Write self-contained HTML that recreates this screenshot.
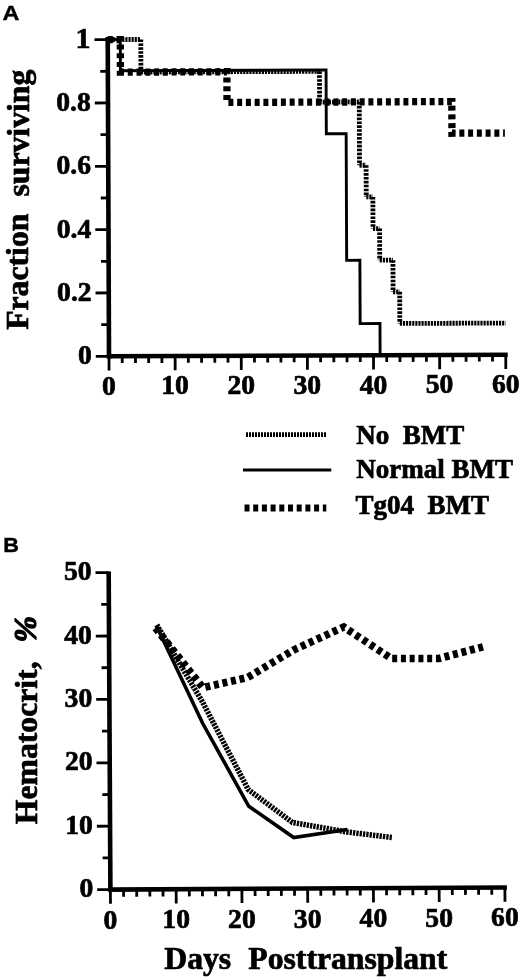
<!DOCTYPE html>
<html lang="en">
<head>
<meta charset="utf-8">
<title>Figure</title>
<style>
html,body{margin:0;padding:0;background:#fff;}
body{width:520px;height:978px;overflow:hidden;}
svg{display:block;}
.se{font-family:"Liberation Serif","Times New Roman",Times,serif;font-weight:bold;fill:#000;}
.sa{font-family:"Liberation Sans",Arial,Helvetica,sans-serif;font-weight:bold;fill:#000;}
</style>
</head>
<body>
<svg width="520" height="978" viewBox="0 0 520 978">
<rect width="520" height="978" fill="#fff"/>
<line x1="109.01" y1="358.6" x2="107.72" y2="37" stroke="#000" stroke-width="4.6" stroke-linecap="butt"/>
<line x1="106.9" y1="356.31" x2="507.75" y2="354.7" stroke="#000" stroke-width="4.6" stroke-linecap="butt"/>
<line x1="95.8" y1="356.35" x2="109" y2="356.3" stroke="#000" stroke-width="2.8" stroke-linecap="butt"/>
<line x1="101.27" y1="324.66" x2="108.87" y2="324.63" stroke="#000" stroke-width="2.8" stroke-linecap="butt"/>
<line x1="95.55" y1="293.01" x2="108.75" y2="292.96" stroke="#000" stroke-width="2.8" stroke-linecap="butt"/>
<line x1="101.02" y1="261.32" x2="108.62" y2="261.29" stroke="#000" stroke-width="2.8" stroke-linecap="butt"/>
<line x1="95.29" y1="229.67" x2="108.49" y2="229.62" stroke="#000" stroke-width="2.8" stroke-linecap="butt"/>
<line x1="100.76" y1="197.98" x2="108.36" y2="197.95" stroke="#000" stroke-width="2.8" stroke-linecap="butt"/>
<line x1="95.04" y1="166.33" x2="108.24" y2="166.28" stroke="#000" stroke-width="2.8" stroke-linecap="butt"/>
<line x1="100.51" y1="134.64" x2="108.11" y2="134.61" stroke="#000" stroke-width="2.8" stroke-linecap="butt"/>
<line x1="94.78" y1="103" x2="107.98" y2="102.94" stroke="#000" stroke-width="2.8" stroke-linecap="butt"/>
<line x1="100.26" y1="71.3" x2="107.86" y2="71.27" stroke="#000" stroke-width="2.8" stroke-linecap="butt"/>
<line x1="94.53" y1="39.66" x2="107.73" y2="39.6" stroke="#000" stroke-width="2.8" stroke-linecap="butt"/>
<line x1="109" y1="356.3" x2="109.06" y2="370.5" stroke="#000" stroke-width="2.8" stroke-linecap="butt"/>
<line x1="122.22" y1="356.25" x2="122.25" y2="363.05" stroke="#000" stroke-width="2.8" stroke-linecap="butt"/>
<line x1="135.45" y1="356.19" x2="135.48" y2="362.99" stroke="#000" stroke-width="2.8" stroke-linecap="butt"/>
<line x1="148.67" y1="356.14" x2="148.7" y2="362.94" stroke="#000" stroke-width="2.8" stroke-linecap="butt"/>
<line x1="161.9" y1="356.09" x2="161.93" y2="362.89" stroke="#000" stroke-width="2.8" stroke-linecap="butt"/>
<line x1="175.12" y1="356.03" x2="175.18" y2="370.23" stroke="#000" stroke-width="2.8" stroke-linecap="butt"/>
<line x1="188.35" y1="355.98" x2="188.38" y2="362.78" stroke="#000" stroke-width="2.8" stroke-linecap="butt"/>
<line x1="201.57" y1="355.93" x2="201.6" y2="362.73" stroke="#000" stroke-width="2.8" stroke-linecap="butt"/>
<line x1="214.8" y1="355.88" x2="214.83" y2="362.68" stroke="#000" stroke-width="2.8" stroke-linecap="butt"/>
<line x1="228.02" y1="355.82" x2="228.05" y2="362.62" stroke="#000" stroke-width="2.8" stroke-linecap="butt"/>
<line x1="241.25" y1="355.77" x2="241.31" y2="369.97" stroke="#000" stroke-width="2.8" stroke-linecap="butt"/>
<line x1="254.47" y1="355.72" x2="254.5" y2="362.52" stroke="#000" stroke-width="2.8" stroke-linecap="butt"/>
<line x1="267.7" y1="355.66" x2="267.73" y2="362.46" stroke="#000" stroke-width="2.8" stroke-linecap="butt"/>
<line x1="280.92" y1="355.61" x2="280.95" y2="362.41" stroke="#000" stroke-width="2.8" stroke-linecap="butt"/>
<line x1="294.15" y1="355.56" x2="294.18" y2="362.36" stroke="#000" stroke-width="2.8" stroke-linecap="butt"/>
<line x1="307.37" y1="355.5" x2="307.43" y2="369.7" stroke="#000" stroke-width="2.8" stroke-linecap="butt"/>
<line x1="320.6" y1="355.45" x2="320.63" y2="362.25" stroke="#000" stroke-width="2.8" stroke-linecap="butt"/>
<line x1="333.82" y1="355.4" x2="333.85" y2="362.2" stroke="#000" stroke-width="2.8" stroke-linecap="butt"/>
<line x1="347.05" y1="355.34" x2="347.08" y2="362.14" stroke="#000" stroke-width="2.8" stroke-linecap="butt"/>
<line x1="360.27" y1="355.29" x2="360.3" y2="362.09" stroke="#000" stroke-width="2.8" stroke-linecap="butt"/>
<line x1="373.5" y1="355.24" x2="373.55" y2="369.44" stroke="#000" stroke-width="2.8" stroke-linecap="butt"/>
<line x1="386.72" y1="355.19" x2="386.75" y2="361.99" stroke="#000" stroke-width="2.8" stroke-linecap="butt"/>
<line x1="399.95" y1="355.13" x2="399.97" y2="361.93" stroke="#000" stroke-width="2.8" stroke-linecap="butt"/>
<line x1="413.17" y1="355.08" x2="413.2" y2="361.88" stroke="#000" stroke-width="2.8" stroke-linecap="butt"/>
<line x1="426.4" y1="355.03" x2="426.42" y2="361.83" stroke="#000" stroke-width="2.8" stroke-linecap="butt"/>
<line x1="439.62" y1="354.97" x2="439.68" y2="369.17" stroke="#000" stroke-width="2.8" stroke-linecap="butt"/>
<line x1="452.85" y1="354.92" x2="452.87" y2="361.72" stroke="#000" stroke-width="2.8" stroke-linecap="butt"/>
<line x1="466.07" y1="354.87" x2="466.1" y2="361.67" stroke="#000" stroke-width="2.8" stroke-linecap="butt"/>
<line x1="479.3" y1="354.81" x2="479.32" y2="361.61" stroke="#000" stroke-width="2.8" stroke-linecap="butt"/>
<line x1="492.52" y1="354.76" x2="492.55" y2="361.56" stroke="#000" stroke-width="2.8" stroke-linecap="butt"/>
<line x1="505.75" y1="354.71" x2="505.8" y2="368.91" stroke="#000" stroke-width="2.8" stroke-linecap="butt"/>
<text class="se" x="90.56" y="47.67" font-size="30" text-anchor="end" stroke="#000" stroke-width="0.7" stroke-linejoin="round">1</text>
<text class="se" x="90.82" y="111.01" font-size="27.6" text-anchor="end" stroke="#000" stroke-width="0.7" stroke-linejoin="round">0.8</text>
<text class="se" x="91.07" y="174.35" font-size="27.6" text-anchor="end" stroke="#000" stroke-width="0.7" stroke-linejoin="round">0.6</text>
<text class="se" x="91.32" y="237.69" font-size="27.6" text-anchor="end" stroke="#000" stroke-width="0.7" stroke-linejoin="round">0.4</text>
<text class="se" x="91.58" y="301.03" font-size="27.6" text-anchor="end" stroke="#000" stroke-width="0.7" stroke-linejoin="round">0.2</text>
<text class="se" x="91.83" y="364.37" font-size="27.6" text-anchor="end" stroke="#000" stroke-width="0.7" stroke-linejoin="round">0</text>
<text class="se" x="108.95" y="394.6" font-size="27.6" text-anchor="middle" stroke="#000" stroke-width="0.7" stroke-linejoin="round">0</text>
<text class="se" x="175.08" y="394.34" font-size="27.6" text-anchor="middle" stroke="#000" stroke-width="0.7" stroke-linejoin="round">10</text>
<text class="se" x="241.2" y="394.07" font-size="27.6" text-anchor="middle" stroke="#000" stroke-width="0.7" stroke-linejoin="round">20</text>
<text class="se" x="307.33" y="393.8" font-size="27.6" text-anchor="middle" stroke="#000" stroke-width="0.7" stroke-linejoin="round">30</text>
<text class="se" x="373.45" y="393.54" font-size="27.6" text-anchor="middle" stroke="#000" stroke-width="0.7" stroke-linejoin="round">40</text>
<text class="se" x="439.58" y="393.27" font-size="27.6" text-anchor="middle" stroke="#000" stroke-width="0.7" stroke-linejoin="round">50</text>
<text class="se" x="505.7" y="393.01" font-size="27.6" text-anchor="middle" stroke="#000" stroke-width="0.7" stroke-linejoin="round">60</text>
<polyline points="107.73,39.6 120.29,39.55 120.42,70.75 326.06,69.92 326.32,133.74 346.16,133.66 346.67,260.34 359.89,260.28 360.15,323.62 379.98,323.54 380.11,355.21" fill="none" stroke="#000" stroke-width="2.9" stroke-linejoin="miter" stroke-linecap="butt"/>
<line x1="122.28" y1="39.54" x2="140.79" y2="39.47" stroke="#000" stroke-width="4.8" stroke-linecap="butt" stroke-dasharray="2.15 0.95"/>
<line x1="140.79" y1="39.47" x2="140.92" y2="72.09" stroke="#000" stroke-width="4.8" stroke-linecap="butt" stroke-dasharray="2.6 1.3"/>
<line x1="140.92" y1="72.09" x2="319.46" y2="71.37" stroke="#000" stroke-width="4.8" stroke-linecap="butt" stroke-dasharray="2.15 0.95"/>
<line x1="319.46" y1="71.37" x2="319.58" y2="102.09" stroke="#000" stroke-width="4.8" stroke-linecap="butt" stroke-dasharray="2.6 1.3"/>
<line x1="319.58" y1="102.09" x2="359.26" y2="101.93" stroke="#000" stroke-width="4.8" stroke-linecap="butt" stroke-dasharray="2.15 0.95"/>
<line x1="359.26" y1="101.93" x2="359.51" y2="165.27" stroke="#000" stroke-width="4.8" stroke-linecap="butt" stroke-dasharray="2.6 1.3"/>
<line x1="359.51" y1="165.27" x2="366.12" y2="165.25" stroke="#000" stroke-width="4.8" stroke-linecap="butt" stroke-dasharray="2.15 0.95"/>
<line x1="366.12" y1="165.25" x2="366.25" y2="196.92" stroke="#000" stroke-width="4.8" stroke-linecap="butt" stroke-dasharray="2.6 1.3"/>
<line x1="366.25" y1="196.92" x2="372.86" y2="196.89" stroke="#000" stroke-width="4.8" stroke-linecap="butt" stroke-dasharray="2.15 0.95"/>
<line x1="372.86" y1="196.89" x2="372.99" y2="228.56" stroke="#000" stroke-width="4.8" stroke-linecap="butt" stroke-dasharray="2.6 1.3"/>
<line x1="372.99" y1="228.56" x2="379.6" y2="228.53" stroke="#000" stroke-width="4.8" stroke-linecap="butt" stroke-dasharray="2.15 0.95"/>
<line x1="379.6" y1="228.53" x2="379.73" y2="260.2" stroke="#000" stroke-width="4.8" stroke-linecap="butt" stroke-dasharray="2.6 1.3"/>
<line x1="379.73" y1="260.2" x2="392.95" y2="260.15" stroke="#000" stroke-width="4.8" stroke-linecap="butt" stroke-dasharray="2.15 0.95"/>
<line x1="392.95" y1="260.15" x2="393.08" y2="291.82" stroke="#000" stroke-width="4.8" stroke-linecap="butt" stroke-dasharray="2.6 1.3"/>
<line x1="393.08" y1="291.82" x2="399.69" y2="291.79" stroke="#000" stroke-width="4.8" stroke-linecap="butt" stroke-dasharray="2.15 0.95"/>
<line x1="399.69" y1="291.79" x2="399.82" y2="323.46" stroke="#000" stroke-width="4.8" stroke-linecap="butt" stroke-dasharray="2.6 1.3"/>
<line x1="399.82" y1="323.46" x2="505.62" y2="323.04" stroke="#000" stroke-width="4.8" stroke-linecap="butt" stroke-dasharray="2.15 0.95"/>
<polyline points="107.73,39.6 120.29,39.55 120.42,72.17 226.88,71.74 227.01,102.46 451.83,101.56 451.96,133.23 504.86,133.02" fill="none" stroke="#000" stroke-width="7.3" stroke-linejoin="miter" stroke-linecap="butt" stroke-dasharray="5 3.75"/>
<ellipse cx="111.03" cy="39.59" rx="5" ry="3.2" fill="#000"/>
<line x1="246" y1="434.7" x2="327" y2="434.7" stroke="#000" stroke-width="4.8" stroke-linecap="butt" stroke-dasharray="2 1"/>
<line x1="243" y1="470" x2="331.3" y2="470" stroke="#000" stroke-width="2.9" stroke-linecap="butt"/>
<line x1="244.5" y1="508" x2="326.3" y2="508" stroke="#000" stroke-width="7.2" stroke-linecap="butt" stroke-dasharray="5 3.7"/>
<text class="se" x="356.2" y="443.6" font-size="27" text-anchor="start" stroke="#000" stroke-width="0.7" stroke-linejoin="round">No  BMT</text>
<text class="se" x="356.2" y="477.5" font-size="27" text-anchor="start" stroke="#000" stroke-width="0.7" stroke-linejoin="round">Normal BMT</text>
<text class="se" x="355.4" y="513.8" font-size="27" text-anchor="start" stroke="#000" stroke-width="0.7" stroke-linejoin="round">Tg04  BMT</text>
<text class="sa" x="2.6" y="20.2" font-size="20" text-anchor="start" transform="translate(2.6 20.2) scale(1.17 1) translate(-2.6 -20.2)" stroke="#000" stroke-width="0.4" stroke-linejoin="round">A</text>
<text class="sa" x="3.2" y="552.1" font-size="20.5" text-anchor="start" transform="translate(3.2 552.1) scale(1.06 1) translate(-3.2 -552.1)" stroke="#000" stroke-width="0.4" stroke-linejoin="round">B</text>
<text class="se" x="28.5" y="329.8" font-size="31.7" text-anchor="start" transform="rotate(-90 28.5 329.8)" stroke="#000" stroke-width="0.7" stroke-linejoin="round">Fraction</text>
<text class="se" x="28.5" y="196.5" font-size="31.7" text-anchor="start" transform="rotate(-90 28.5 196.5)" stroke="#000" stroke-width="0.7" stroke-linejoin="round">surviving</text>
<line x1="110.41" y1="891.7" x2="108.68" y2="571.4" stroke="#000" stroke-width="4.6" stroke-linecap="butt"/>
<line x1="108.3" y1="889.61" x2="506.89" y2="887.45" stroke="#000" stroke-width="4.6" stroke-linecap="butt"/>
<line x1="97.2" y1="889.67" x2="110.4" y2="889.6" stroke="#000" stroke-width="2.8" stroke-linecap="butt"/>
<line x1="102.63" y1="857.94" x2="110.23" y2="857.9" stroke="#000" stroke-width="2.8" stroke-linecap="butt"/>
<line x1="96.86" y1="826.27" x2="110.06" y2="826.2" stroke="#000" stroke-width="2.8" stroke-linecap="butt"/>
<line x1="102.29" y1="794.54" x2="109.89" y2="794.5" stroke="#000" stroke-width="2.8" stroke-linecap="butt"/>
<line x1="96.51" y1="762.87" x2="109.71" y2="762.8" stroke="#000" stroke-width="2.8" stroke-linecap="butt"/>
<line x1="101.94" y1="731.14" x2="109.54" y2="731.1" stroke="#000" stroke-width="2.8" stroke-linecap="butt"/>
<line x1="96.17" y1="699.47" x2="109.37" y2="699.4" stroke="#000" stroke-width="2.8" stroke-linecap="butt"/>
<line x1="101.6" y1="667.74" x2="109.2" y2="667.7" stroke="#000" stroke-width="2.8" stroke-linecap="butt"/>
<line x1="95.83" y1="636.08" x2="109.03" y2="636" stroke="#000" stroke-width="2.8" stroke-linecap="butt"/>
<line x1="101.26" y1="604.35" x2="108.86" y2="604.3" stroke="#000" stroke-width="2.8" stroke-linecap="butt"/>
<line x1="95.49" y1="572.68" x2="108.68" y2="572.6" stroke="#000" stroke-width="2.8" stroke-linecap="butt"/>
<line x1="110.4" y1="889.6" x2="110.48" y2="903.8" stroke="#000" stroke-width="2.8" stroke-linecap="butt"/>
<line x1="123.55" y1="889.53" x2="123.59" y2="896.73" stroke="#000" stroke-width="2.8" stroke-linecap="butt"/>
<line x1="136.7" y1="889.46" x2="136.74" y2="896.66" stroke="#000" stroke-width="2.8" stroke-linecap="butt"/>
<line x1="149.85" y1="889.39" x2="149.89" y2="896.59" stroke="#000" stroke-width="2.8" stroke-linecap="butt"/>
<line x1="163" y1="889.32" x2="163.04" y2="896.52" stroke="#000" stroke-width="2.8" stroke-linecap="butt"/>
<line x1="176.15" y1="889.24" x2="176.23" y2="903.44" stroke="#000" stroke-width="2.8" stroke-linecap="butt"/>
<line x1="189.3" y1="889.17" x2="189.34" y2="896.37" stroke="#000" stroke-width="2.8" stroke-linecap="butt"/>
<line x1="202.45" y1="889.1" x2="202.49" y2="896.3" stroke="#000" stroke-width="2.8" stroke-linecap="butt"/>
<line x1="215.6" y1="889.03" x2="215.64" y2="896.23" stroke="#000" stroke-width="2.8" stroke-linecap="butt"/>
<line x1="228.75" y1="888.96" x2="228.79" y2="896.16" stroke="#000" stroke-width="2.8" stroke-linecap="butt"/>
<line x1="241.9" y1="888.89" x2="241.97" y2="903.09" stroke="#000" stroke-width="2.8" stroke-linecap="butt"/>
<line x1="255.05" y1="888.82" x2="255.09" y2="896.02" stroke="#000" stroke-width="2.8" stroke-linecap="butt"/>
<line x1="268.2" y1="888.75" x2="268.24" y2="895.95" stroke="#000" stroke-width="2.8" stroke-linecap="butt"/>
<line x1="281.35" y1="888.68" x2="281.39" y2="895.87" stroke="#000" stroke-width="2.8" stroke-linecap="butt"/>
<line x1="294.5" y1="888.6" x2="294.54" y2="895.8" stroke="#000" stroke-width="2.8" stroke-linecap="butt"/>
<line x1="307.65" y1="888.53" x2="307.72" y2="902.73" stroke="#000" stroke-width="2.8" stroke-linecap="butt"/>
<line x1="320.8" y1="888.46" x2="320.84" y2="895.66" stroke="#000" stroke-width="2.8" stroke-linecap="butt"/>
<line x1="333.95" y1="888.39" x2="333.99" y2="895.59" stroke="#000" stroke-width="2.8" stroke-linecap="butt"/>
<line x1="347.1" y1="888.32" x2="347.14" y2="895.52" stroke="#000" stroke-width="2.8" stroke-linecap="butt"/>
<line x1="360.25" y1="888.25" x2="360.29" y2="895.45" stroke="#000" stroke-width="2.8" stroke-linecap="butt"/>
<line x1="373.4" y1="888.18" x2="373.47" y2="902.38" stroke="#000" stroke-width="2.8" stroke-linecap="butt"/>
<line x1="386.55" y1="888.11" x2="386.58" y2="895.31" stroke="#000" stroke-width="2.8" stroke-linecap="butt"/>
<line x1="399.7" y1="888.03" x2="399.73" y2="895.23" stroke="#000" stroke-width="2.8" stroke-linecap="butt"/>
<line x1="412.85" y1="887.96" x2="412.88" y2="895.16" stroke="#000" stroke-width="2.8" stroke-linecap="butt"/>
<line x1="426" y1="887.89" x2="426.03" y2="895.09" stroke="#000" stroke-width="2.8" stroke-linecap="butt"/>
<line x1="439.15" y1="887.82" x2="439.22" y2="902.02" stroke="#000" stroke-width="2.8" stroke-linecap="butt"/>
<line x1="452.29" y1="887.75" x2="452.33" y2="894.95" stroke="#000" stroke-width="2.8" stroke-linecap="butt"/>
<line x1="465.44" y1="887.68" x2="465.48" y2="894.88" stroke="#000" stroke-width="2.8" stroke-linecap="butt"/>
<line x1="478.59" y1="887.61" x2="478.63" y2="894.81" stroke="#000" stroke-width="2.8" stroke-linecap="butt"/>
<line x1="491.74" y1="887.54" x2="491.78" y2="894.74" stroke="#000" stroke-width="2.8" stroke-linecap="butt"/>
<line x1="504.89" y1="887.47" x2="504.97" y2="901.67" stroke="#000" stroke-width="2.8" stroke-linecap="butt"/>
<text class="se" x="93.24" y="897.29" font-size="27.6" text-anchor="end" stroke="#000" stroke-width="0.7" stroke-linejoin="round">0</text>
<text class="se" x="92.9" y="833.89" font-size="27.6" text-anchor="end" stroke="#000" stroke-width="0.7" stroke-linejoin="round">10</text>
<text class="se" x="92.56" y="770.49" font-size="27.6" text-anchor="end" stroke="#000" stroke-width="0.7" stroke-linejoin="round">20</text>
<text class="se" x="92.21" y="707.1" font-size="27.6" text-anchor="end" stroke="#000" stroke-width="0.7" stroke-linejoin="round">30</text>
<text class="se" x="91.87" y="643.7" font-size="27.6" text-anchor="end" stroke="#000" stroke-width="0.7" stroke-linejoin="round">40</text>
<text class="se" x="91.53" y="580.3" font-size="27.6" text-anchor="end" stroke="#000" stroke-width="0.7" stroke-linejoin="round">50</text>
<text class="se" x="110.41" y="928.6" font-size="27.6" text-anchor="middle" stroke="#000" stroke-width="0.7" stroke-linejoin="round">0</text>
<text class="se" x="176.16" y="928.24" font-size="27.6" text-anchor="middle" stroke="#000" stroke-width="0.7" stroke-linejoin="round">10</text>
<text class="se" x="241.91" y="927.89" font-size="27.6" text-anchor="middle" stroke="#000" stroke-width="0.7" stroke-linejoin="round">20</text>
<text class="se" x="307.66" y="927.53" font-size="27.6" text-anchor="middle" stroke="#000" stroke-width="0.7" stroke-linejoin="round">30</text>
<text class="se" x="373.41" y="927.18" font-size="27.6" text-anchor="middle" stroke="#000" stroke-width="0.7" stroke-linejoin="round">40</text>
<text class="se" x="439.16" y="926.82" font-size="27.6" text-anchor="middle" stroke="#000" stroke-width="0.7" stroke-linejoin="round">50</text>
<text class="se" x="504.91" y="926.47" font-size="27.6" text-anchor="middle" stroke="#000" stroke-width="0.7" stroke-linejoin="round">60</text>
<polyline points="156.3,625.5 202.5,723 248.75,806.25 293.75,837.5 347.5,829.5" fill="none" stroke="#000" stroke-width="3.6" stroke-linejoin="miter" stroke-linecap="butt"/>
<polyline points="156.8,625 202.5,702 248.2,789.5 292.5,822.5 347,832 392.3,837.5" fill="none" stroke="#000" stroke-width="5.5" stroke-linejoin="miter" stroke-linecap="butt" stroke-dasharray="2.3 1.05"/>
<polyline points="155.5,628 202.9,687.7 247.5,677.5 294.6,649.5 343.75,627 391.25,658.5 439,658.5 483,646.8" fill="none" stroke="#000" stroke-width="7.6" stroke-linejoin="miter" stroke-linecap="butt" stroke-dasharray="5 3.75"/>
<text class="se" x="37.5" y="824.2" font-size="31.7" text-anchor="start" transform="rotate(-90 37.5 824.2)" stroke="#000" stroke-width="0.7" stroke-linejoin="round">Hematocrit,</text>
<text class="se" x="36.2" y="642.5" font-size="31.7" text-anchor="start" transform="rotate(-90 36.2 642.5)" stroke="#000" stroke-width="1.3" stroke-linejoin="round" font-style="italic">%</text>
<text class="se" x="164.3" y="968.9" font-size="31.7" text-anchor="start" stroke="#000" stroke-width="0.7" stroke-linejoin="round">Days</text>
<text class="se" x="248.3" y="968.6" font-size="31.7" text-anchor="start" stroke="#000" stroke-width="0.7" stroke-linejoin="round">Posttransplant</text>
</svg>
</body>
</html>
